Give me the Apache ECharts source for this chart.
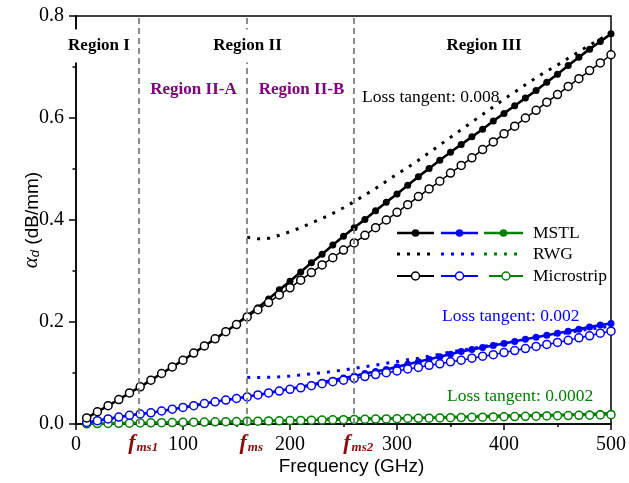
<!DOCTYPE html>
<html>
<head>
<meta charset="utf-8">
<script src="https://cdn.jsdelivr.net/npm/echarts@6/dist/echarts.min.js"></script>
<style>
  html, body { margin: 0; padding: 0; background: #fff; }
  #chart { width: 629px; height: 483px; }
</style>
</head>
<body>
<div id="chart"></div>
<script>
// Frequency grid (GHz)
const freq = [10,20,30,40,50,60,70,80,90,100,110,120,130,140,150,160,170,180,190,200,
  210,220,230,240,250,260,270,280,290,300,310,320,330,340,350,360,370,380,390,400,
  410,420,430,440,450,460,470,480,490,500];
const freqRwg = [160,170,180,190,200,210,220,230,240,250,260,270,280,290,300,310,320,330,340,350,
  360,370,380,390,400,410,420,430,440,450,460,470,480,490,500];

// Dielectric loss (dB/mm), loss tangent 0.008
const mstl008 = [0.012,0.024,0.036,0.048,0.061,0.073,0.086,0.099,0.112,0.125,
  0.139,0.153,0.167,0.181,0.196,0.212,0.228,0.245,0.263,0.280,
  0.298,0.316,0.333,0.351,0.368,0.385,0.401,0.418,0.435,0.451,
  0.468,0.485,0.501,0.517,0.533,0.548,0.563,0.578,0.594,0.609,
  0.624,0.639,0.654,0.670,0.686,0.703,0.719,0.735,0.750,0.765];
const micro008 = [0.012,0.024,0.036,0.048,0.061,0.073,0.086,0.099,0.112,0.125,
  0.139,0.153,0.167,0.181,0.195,0.210,0.224,0.238,0.253,0.267,
  0.282,0.297,0.312,0.326,0.341,0.355,0.370,0.385,0.400,0.415,
  0.430,0.446,0.461,0.476,0.492,0.507,0.522,0.538,0.553,0.569,
  0.584,0.600,0.615,0.631,0.646,0.662,0.677,0.693,0.708,0.724];
const rwg008 = [0.366,0.363,0.364,0.370,0.377,0.385,0.394,0.403,0.413,0.424,
  0.436,0.449,0.462,0.476,0.490,0.503,0.517,0.532,0.547,0.562,
  0.577,0.592,0.607,0.622,0.637,0.651,0.665,0.679,0.692,0.704,
  0.717,0.730,0.743,0.755,0.768];

// Loss tangent 0.002
const mstl002 = [0.003,0.0065,0.010,0.0135,0.017,0.0196,0.022,0.0255,0.029,0.0325,
  0.036,0.040,0.0435,0.047,0.050,0.054,0.057,0.061,0.065,0.069,
  0.073,0.077,0.082,0.086,0.090,0.094,0.099,0.103,0.107,0.112,
  0.117,0.122,0.127,0.132,0.137,0.142,0.146,0.150,0.154,0.158,
  0.162,0.166,0.170,0.174,0.178,0.182,0.186,0.190,0.194,0.197];
const micro002 = [0.003,0.0065,0.010,0.0135,0.017,0.0196,0.022,0.0255,0.029,0.0325,
  0.036,0.040,0.0435,0.047,0.050,0.053,0.057,0.061,0.0645,0.068,
  0.071,0.075,0.079,0.083,0.086,0.0895,0.093,0.097,0.1005,0.104,
  0.108,0.111,0.115,0.118,0.122,0.125,0.129,0.133,0.136,0.140,
  0.144,0.148,0.152,0.156,0.160,0.164,0.169,0.173,0.178,0.182];
const rwg002 = [0.0915,0.091,0.0915,0.0925,0.094,0.096,0.0985,0.1005,0.103,0.106,
  0.109,0.1125,0.1155,0.119,0.1225,0.126,0.129,0.133,0.137,0.141,
  0.1445,0.148,0.152,0.1555,0.159,0.163,0.166,0.170,0.173,0.176,
  0.179,0.183,0.186,0.189,0.192];

// Loss tangent 0.0002
const mstl0002 = [0.0004,0.0008,0.0011,0.0014,0.0017,0.0020,0.0023,0.0026,0.0029,0.0032,
  0.0035,0.0038,0.0042,0.0045,0.0049,0.0053,0.0057,0.0061,0.0066,0.0070,
  0.0075,0.0079,0.0083,0.0088,0.0092,0.0096,0.0100,0.0105,0.0109,0.0113,
  0.0117,0.0122,0.0126,0.0130,0.0135,0.0139,0.0143,0.0148,0.0152,0.0157,
  0.0161,0.0166,0.0170,0.0175,0.0179,0.0184,0.0190,0.0197,0.0204,0.0212];
const micro0002 = [0.0004,0.0008,0.0011,0.0014,0.0017,0.0020,0.0023,0.0026,0.0029,0.0032,
  0.0035,0.0038,0.0042,0.0045,0.0049,0.0052,0.0056,0.0060,0.0063,0.0067,
  0.0071,0.0074,0.0078,0.0082,0.0085,0.0089,0.0093,0.0097,0.0100,0.0104,
  0.0108,0.0112,0.0115,0.0119,0.0123,0.0127,0.0131,0.0134,0.0138,0.0142,
  0.0146,0.0150,0.0154,0.0158,0.0162,0.0166,0.0170,0.0174,0.0178,0.0182];
const rwg0002 = [0.0092,0.0091,0.0091,0.0093,0.0094,0.0096,0.0099,0.0101,0.0103,0.0106,
  0.0109,0.0112,0.0116,0.0119,0.0122,0.0126,0.0129,0.0133,0.0137,0.0141,
  0.0144,0.0148,0.0152,0.0156,0.0159,0.0163,0.0166,0.0170,0.0173,0.0176,
  0.0179,0.0183,0.0186,0.0189,0.0192];

// Characteristic frequencies (GHz)
const fLines = [
  { value: 59, sub: 'ms1' },
  { value: 160, sub: 'ms' },
  { value: 260, sub: 'ms2' }
];

const BLACK = '#000000', BLUE = '#0000ff', GREEN = '#008000';
const SERIF = '"Liberation Serif", "Times New Roman", serif';
const SANS = '"Liberation Sans", Arial, sans-serif';

const zip = (xs, ys) => xs.map((x, i) => [x, ys[i]]);

function mstlSeries(name, color, values) {
  return {
    name, type: 'line', data: zip(freq, values),
    symbol: 'circle', symbolSize: 7, showAllSymbol: true,
    lineStyle: { color, width: 2.6 },
    itemStyle: { color, borderColor: color, borderWidth: 0 },
    silent: true
  };
}
function rwgSeries(name, color, values) {
  return {
    name, type: 'line', data: zip(freqRwg, values),
    symbol: 'none',
    lineStyle: { color, width: 3, type: [3, 7] },
    silent: true
  };
}
function microSeries(name, color, values) {
  return {
    name, type: 'line', data: zip(freq, values),
    symbol: 'circle', symbolSize: 8, showAllSymbol: true,
    lineStyle: { color, width: 1.5 },
    itemStyle: { color: '#ffffff', borderColor: color, borderWidth: 1.5 },
    silent: true
  };
}

const series = [
  mstlSeries('MSTL 0.0002', GREEN, mstl0002),
  mstlSeries('MSTL 0.002', BLUE, mstl002),
  mstlSeries('MSTL 0.008', BLACK, mstl008),
  rwgSeries('RWG 0.0002', GREEN, rwg0002),
  rwgSeries('RWG 0.002', BLUE, rwg002),
  rwgSeries('RWG 0.008', BLACK, rwg008),
  microSeries('Microstrip 0.0002', GREEN, micro0002),
  microSeries('Microstrip 0.002', BLUE, micro002),
  microSeries('Microstrip 0.008', BLACK, micro008)
];

// Region boundaries as dashed verticals with f labels under the axis
series[series.length - 1].markLine = {
  silent: true,
  symbol: 'none',
  animation: false,
  lineStyle: { color: '#808080', width: 1.8, type: [6, 4] },
  label: {
    show: true,
    position: 'start',
    distance: 6,
    offset: [4, 0],
    formatter: p => '{f|f}{s|' + p.name + '}',
    rich: {
      f: { fontFamily: SERIF, fontSize: 22, fontWeight: 'bold', fontStyle: 'italic', color: '#8b0a0a', lineHeight: 24, verticalAlign: 'bottom' },
      s: { fontFamily: SERIF, fontSize: 13, fontWeight: 'bold', fontStyle: 'italic', color: '#8b0a0a', lineHeight: 14, verticalAlign: 'bottom', padding: [0, 0, 0, 1] }
    }
  },
  data: fLines.map(d => ({ xAxis: d.value, name: d.sub }))
};

// Annotation texts
function txt(x, y, text, opt) {
  return {
    type: 'text', x, y, z: 100, silent: true,
    style: Object.assign({
      text,
      align: 'center', verticalAlign: 'middle',
      textAlign: 'center', textVerticalAlign: 'middle',
      fill: '#000'
    }, opt)
  };
}
const regionFont = 'bold 17px ' + SERIF;
const noteFont = '17.5px ' + SERIF;

const graphics = [
  txt(99, 46, 'Region I', { font: regionFont, backgroundColor: '#fff', padding: [8, 8] }),
  txt(247.5, 46, 'Region II', { font: regionFont, backgroundColor: '#fff', padding: [8, 6] }),
  txt(484, 46, 'Region III', { font: regionFont, backgroundColor: '#fff', padding: [4, 6] }),
  txt(193.5, 90, 'Region II-A', { font: regionFont, fill: '#800080' }),
  txt(301.5, 90, 'Region II-B', { font: regionFont, fill: '#800080' }),
  txt(362, 97, 'Loss tangent: 0.008', { font: noteFont, align: 'left', textAlign: 'left' }),
  txt(442, 316, 'Loss tangent: 0.002', { font: noteFont, fill: BLUE, align: 'left', textAlign: 'left' }),
  txt(447, 396, 'Loss tangent: 0.0002', { font: noteFont, fill: GREEN, align: 'left', textAlign: 'left' })
];

// Legend: three rows, each with black / blue / green samples
const legendRows = [
  { y: 233, label: 'MSTL', kind: 'mstl' },
  { y: 254, label: 'RWG', kind: 'rwg' },
  { y: 276, label: 'Microstrip', kind: 'micro' }
];
const legendCols = [
  { x1: 397, x2: 434, color: BLACK },
  { x1: 441, x2: 478, color: BLUE },
  { x1: 484, x2: 523, color: GREEN }
];
legendRows.forEach(row => {
  legendCols.forEach((col, ci) => {
    let x1 = col.x1;
    if (row.kind === 'micro' && ci === 2) x1 = 489;
    const cx = (x1 + col.x2) / 2;
    graphics.push({
      type: 'line', z: 100, silent: true,
      shape: { x1, y1: row.y, x2: col.x2, y2: row.y },
      style: row.kind === 'rwg'
        ? { stroke: col.color, lineWidth: 3, lineDash: [3, 7] }
        : { stroke: col.color, lineWidth: row.kind === 'mstl' ? 2.6 : 2.2 }
    });
    if (row.kind !== 'rwg') {
      graphics.push({
        type: 'circle', z: 101, silent: true,
        shape: { cx, cy: row.y, r: row.kind === 'mstl' ? 3.8 : 4 },
        style: row.kind === 'mstl'
          ? { fill: col.color }
          : { fill: '#fff', stroke: col.color, lineWidth: 1.5 }
      });
    }
  });
  graphics.push(txt(533, row.y, row.label, { font: noteFont, align: 'left', textAlign: 'left' }));
});

const chart = echarts.init(document.getElementById('chart'), null, { renderer: 'canvas' });
chart.setOption({
  animation: false,
  backgroundColor: '#ffffff',
  grid: {
    left: 76, right: 16, top: 16, bottom: 59,
    show: true, borderColor: '#000', borderWidth: 1.5, backgroundColor: 'transparent'
  },
  xAxis: {
    type: 'value', min: 0, max: 500, interval: 100,
    name: 'Frequency (GHz)', nameLocation: 'middle', nameGap: 33, nameMoveOverlap: false,
    nameTextStyle: { fontFamily: SANS, fontSize: 19, color: '#000', padding: [0, 0, 0, 16] },
    axisLine: { show: true, onZero: false, lineStyle: { color: '#000', width: 1.5 } },
    axisTick: { show: true, inside: false, length: 6, lineStyle: { color: '#000', width: 1.5 } },
    minorTick: { show: true, splitNumber: 2, length: 3, lineStyle: { color: '#000', width: 1.5 } },
    splitLine: { show: false },
    axisLabel: { fontFamily: SERIF, fontSize: 20, color: '#000', margin: 11 }
  },
  yAxis: {
    type: 'value', min: 0, max: 0.8, interval: 0.2,
    name: '{a|α}{s|d}{n| (dB/mm)}', nameLocation: 'middle', nameGap: 34, nameMoveOverlap: false,
    nameTextStyle: {
      fontFamily: SANS, fontSize: 19, color: '#000',
      rich: {
        a: { fontFamily: SERIF, fontStyle: 'italic', fontSize: 21, color: '#000', lineHeight: 24, verticalAlign: 'bottom' },
        s: { fontFamily: SANS, fontStyle: 'italic', fontSize: 13, color: '#000', lineHeight: 14, verticalAlign: 'bottom' },
        n: { fontFamily: SANS, fontSize: 19, color: '#000', lineHeight: 24, verticalAlign: 'bottom' }
      }
    },
    axisLine: { show: true, onZero: false, lineStyle: { color: '#000', width: 1.5 } },
    axisTick: { show: true, inside: false, length: 7, lineStyle: { color: '#000', width: 1.5 } },
    minorTick: { show: true, splitNumber: 2, length: 3.5, lineStyle: { color: '#000', width: 1.5 } },
    splitLine: { show: false },
    axisLabel: { fontFamily: SERIF, fontSize: 20, color: '#000', margin: 12, formatter: v => v.toFixed(1) }
  },
  graphic: { elements: graphics },
  series
});
</script>
</body>
</html>
